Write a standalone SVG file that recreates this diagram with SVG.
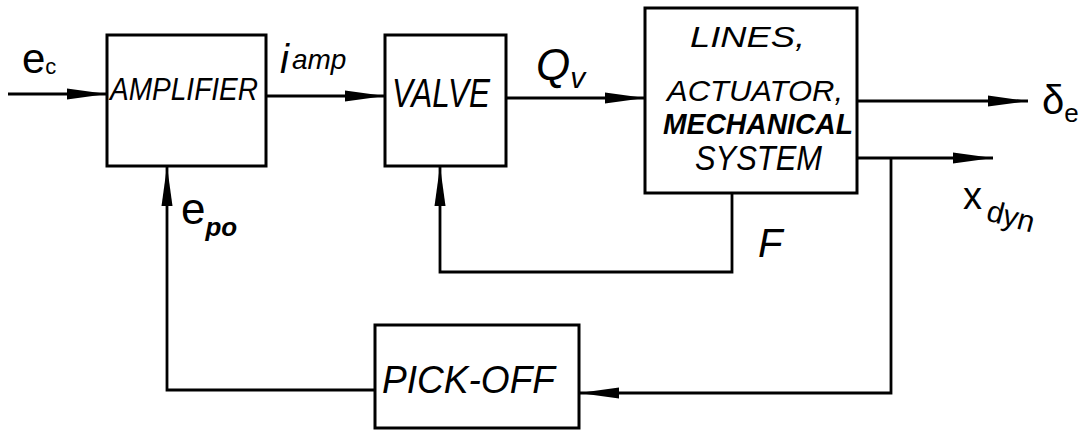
<svg xmlns="http://www.w3.org/2000/svg" width="1089" height="431" viewBox="0 0 1089 431">
<defs>
<style>
.box{fill:#fff;stroke:#000;stroke-width:3}
.ln{fill:none;stroke:#000;stroke-width:2.8;marker-end:url(#ah)}
.lbl{font-family:"Liberation Sans",Arial,sans-serif;font-style:italic;fill:#000}
.sym{font-family:"Liberation Sans",Arial,sans-serif;fill:#000}
</style>
<marker id="ah" viewBox="0 0 40 13" refX="40" refY="6.5" markerWidth="40" markerHeight="13" markerUnits="userSpaceOnUse" orient="auto">
<path d="M0,1 L40,6.5 L0,12 Z" fill="#000"/>
</marker>
</defs>
<rect width="1089" height="431" fill="#fff"/>
<g id="connectors">
<path class="ln" d="M8,94 H107"/>
<path class="ln" d="M266,96 H385"/>
<path class="ln" d="M506,98 H645"/>
<path class="ln" d="M857,101 H1028"/>
<path class="ln" d="M857,158 H993"/>
<path class="ln" d="M891,158 V393 H579"/>
<path class="ln" d="M732,193 V272 H440 V166"/>
<path class="ln" d="M375,390 H167 V166"/>
</g>
<g id="amplifier">
<rect class="box" x="107" y="35" width="159" height="131"/>
<text class="lbl" x="110" y="100" font-size="31" textLength="148" lengthAdjust="spacingAndGlyphs">AMPLIFIER</text>
</g>
<g id="valve">
<rect class="box" x="385" y="35" width="121" height="131"/>
<text class="lbl" x="392" y="107" font-size="40" textLength="98" lengthAdjust="spacingAndGlyphs">VALVE</text>
</g>
<g id="lines-actuator">
<rect class="box" x="645" y="8" width="212" height="185"/>
<text class="lbl" x="690" y="47" font-size="30" textLength="115" lengthAdjust="spacingAndGlyphs">LINES,</text>
<text class="lbl" x="667" y="101" font-size="30" textLength="176" lengthAdjust="spacingAndGlyphs">ACTUATOR,</text>
<text class="lbl" x="663" y="134" font-size="30" font-weight="bold" textLength="190" lengthAdjust="spacingAndGlyphs">MECHANICAL</text>
<text class="lbl" x="695" y="170" font-size="35" textLength="127" lengthAdjust="spacingAndGlyphs">SYSTEM</text>
</g>
<g id="pick-off">
<rect class="box" x="375" y="325" width="204" height="103"/>
<text class="lbl" x="382" y="393" font-size="38" textLength="173" lengthAdjust="spacingAndGlyphs">PICK-OFF</text>
</g>
<g id="labels">
<text class="sym" x="22" y="73" font-size="42">e<tspan font-size="22" dy="1">c</tspan></text>
<text class="lbl" x="280" y="73" font-size="40">i<tspan font-size="28" dx="3" dy="-4">amp</tspan></text>
<text class="lbl" x="536" y="80" font-size="44">Q<tspan font-size="30" dy="8">v</tspan></text>
<text class="sym" x="1042" y="114" font-size="40">δ<tspan font-size="26" dy="8">e</tspan></text>
<text class="sym" x="963" y="209" font-size="38">x</text>
<text class="sym" x="985" y="220" font-size="30" transform="rotate(15 985 220)">dyn</text>
<text class="sym" x="181" y="224" font-size="44">e<tspan font-size="26" dy="12" font-weight="bold" font-style="italic">po</tspan></text>
<text class="lbl" x="758" y="257" font-size="40">F</text>
</g>
</svg>
